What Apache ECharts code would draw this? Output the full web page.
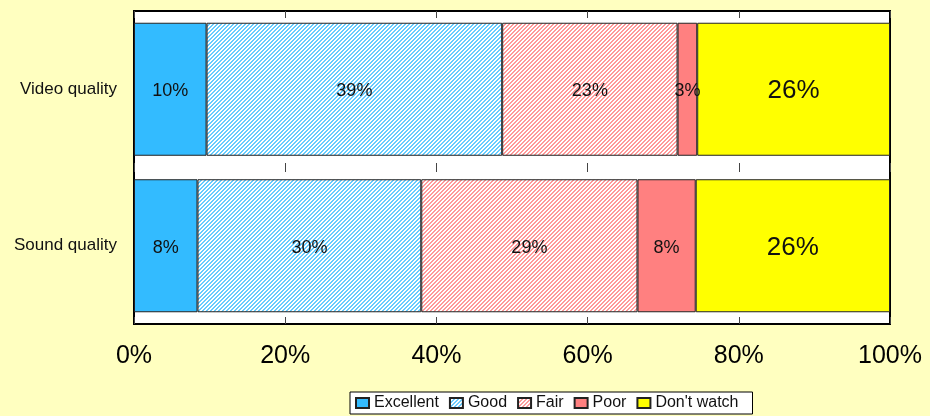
<!DOCTYPE html>
<html>
<head>
<meta charset="utf-8">
<script src="https://cdn.jsdelivr.net/npm/echarts@6/dist/echarts.min.js"></script>
<style>
  html, body { margin: 0; padding: 0; background: #FFFFC0; }
  #chart { width: 930px; height: 416px; }
</style>
</head>
<body>
<div id="chart"></div>
<script>
// Survey categories, top to bottom
var categories = ['Video quality', 'Sound quality'];

// Share of answers per rating (percent), one value per category
var excellent  = [9.6, 8.4];
var good       = [39.1, 29.6];
var fair       = [23.2, 28.6];
var poor       = [2.6, 7.7];
var dontWatch  = [25.5, 25.7];

var seriesNames = ['Excellent', 'Good', 'Fair', 'Poor', "Don't watch"];
var xTicks = [0, 20, 40, 60, 80, 100];

// Diagonal hatch fill used by the "Good" and "Fair" segments
function hatch(lineColor) {
  var c = document.createElement('canvas');
  c.width = 4; c.height = 4;
  var ctx = c.getContext('2d');
  ctx.fillStyle = '#ffffff';
  ctx.fillRect(0, 0, 4, 4);
  ctx.fillStyle = lineColor;
  for (var x = 0; x < 4; x++) {
    for (var y = 0; y < 4; y++) {
      var m = (x + y) % 4;
      if (m === 0 || m === 1) ctx.fillRect(x, y, 1, 1);
    }
  }
  return { image: c, repeat: 'repeat' };
}

var fills = ['#33BBFF', hatch('#66CCFF'), hatch('#FF9999'), '#FF8080', '#FFFF00'];
var values = [excellent, good, fair, poor, dontWatch];
var font = 'Liberation Sans, Arial, sans-serif';

var series = seriesNames.map(function (name, i) {
  return {
    name: name,
    type: 'bar',
    stack: 'total',
    barWidth: '85%',
    data: values[i],
    itemStyle: { color: fills[i], borderColor: '#222', borderWidth: 1 },
    label: {
      show: true,
      position: 'inside',
      offset: [0, 2],
      color: '#111',
      fontFamily: font,
      fontSize: i === 4 ? 26 : 18,
      formatter: function (p) { return Math.round(p.value) + '%'; }
    }
  };
});

var chart = echarts.init(document.getElementById('chart'), null, { renderer: 'canvas' });

var baseX = {
  type: 'value', min: xTicks[0], max: xTicks[xTicks.length - 1], interval: 20,
  axisLine: { show: false },
  splitLine: { show: false }
};

chart.setOption({
  backgroundColor: '#FFFFC0',
  animation: false,
  textStyle: { fontFamily: font },
  grid: {
    left: 134, right: 40, top: 11, bottom: 92,
    show: true, backgroundColor: '#ffffff', borderColor: '#000000', borderWidth: 2
  },
  yAxis: {
    type: 'category',
    data: categories,
    inverse: true,
    axisLine: { show: false },
    axisTick: { show: false },
    axisLabel: { color: '#111', fontSize: 17, margin: 17 }
  },
  xAxis: [
    Object.assign({}, baseX, {
      position: 'bottom',
      axisTick: { show: true, inside: true, length: 7, lineStyle: { color: '#444' } },
      axisLabel: { color: '#000', fontSize: 25, margin: 20, formatter: '{value}%' }
    }),
    Object.assign({}, baseX, {
      position: 'top',
      axisTick: { show: true, inside: true, length: 7, lineStyle: { color: '#444' } },
      axisLabel: { show: false }
    }),
    Object.assign({}, baseX, {
      position: 'bottom',
      offset: -161,
      axisTick: { show: true, inside: false, length: 9, lineStyle: { color: '#444' } },
      axisLabel: { show: false }
    })
  ],
  legend: {
    data: seriesNames,
    bottom: 2,
    left: 350,
    backgroundColor: '#ffffff',
    borderColor: '#000000',
    borderWidth: 1,
    padding: [3, 14, 3, 5],
    itemWidth: 13,
    itemHeight: 10,
    itemGap: 10,
    icon: 'rect',
    textStyle: { color: '#111', fontSize: 16 }
  },
  series: series
});
</script>
</body>
</html>
